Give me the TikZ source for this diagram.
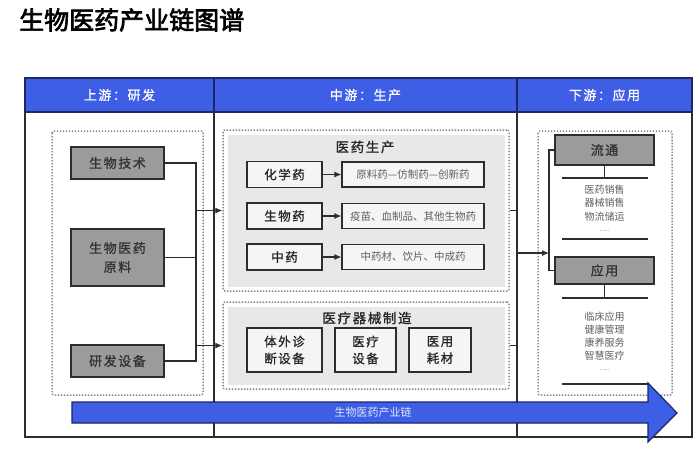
\documentclass[tikz,border=0pt]{standalone}
\usepackage{fontspec}
\setmainfont{Noto Sans CJK SC}
\newfontfamily\titlefont{Noto Sans CJK SC}[FakeBold=2.5]
\newfontfamily\boxfont{Noto Sans CJK SC}[FakeBold=1.0,LetterSpace=12]
\newfontfamily\plainfont{Noto Sans CJK SC}
\usetikzlibrary{arrows.meta}
\definecolor{hdrblue}{RGB}{62,94,230}
\definecolor{navy}{RGB}{28,38,105}
\definecolor{boxgray}{RGB}{155,155,155}
\definecolor{panelgray}{RGB}{232,232,232}
\definecolor{dotgray}{RGB}{135,135,135}
\definecolor{linedark}{RGB}{45,45,45}
\definecolor{txtgray}{RGB}{95,95,95}
\begin{document}
\begin{tikzpicture}[x=1pt,y=-1pt,
  hdrtext/.style={text=white, font=\boxfont\fontsize{13}{13}\selectfont},
  graybox/.style={draw=linedark, line width=1.1pt, fill=boxgray, text=black!80,
    font=\boxfont\fontsize{13}{19}\selectfont, align=center, inner sep=0pt},
  whitebox/.style={draw=linedark, line width=1.1pt, fill=white!96!black, text=black!85,
    font=\boxfont\fontsize{12.5}{17}\selectfont, align=center, inner sep=0pt},
  itembox/.style={draw=linedark, line width=1.1pt, fill=white!96!black, text=txtgray,
    font=\plainfont\fontsize{10.5}{12}\selectfont, inner sep=0pt},
  dotbox/.style={draw=dotgray, line width=1.5pt, dash pattern=on 1.4pt off 1.6pt, rounded corners=2pt},
  secttitle/.style={text=black!85, font=\boxfont\fontsize{13.5}{14}\selectfont},
  listtext/.style={text=txtgray, font=\plainfont\fontsize{10}{13.5}\selectfont, align=center},
  conn/.style={draw=linedark, line width=1.1pt},
  arr/.style={conn, -{Latex[length=7pt,width=6pt]}}
]
\useasboundingbox (0,0) rectangle (700,451);
\fill[white] (0,0) rectangle (700,451);

% title
\node[anchor=west, inner sep=0pt, font=\titlefont\fontsize{25}{25}\selectfont] (title) at (19,20) {生物医药产业链图谱};

% frame and header
\fill[hdrblue] (25,78) rectangle (692,112);
\draw[navy, line width=1.2pt] (25,78) rectangle (692,112);
\draw[linedark, line width=1.2pt] (25,112) -- (25,437) -- (692,437) -- (692,112);
\coordinate (divL) at (214,0);
\coordinate (divR) at (517,0);
\draw[navy, line width=1.2pt] (214,78) -- (214,112);
\draw[navy, line width=1.2pt] (517,78) -- (517,112);
\draw[linedark, line width=1.2pt] (214,112) -- (214,437);
\draw[linedark, line width=1.2pt] (517,112) -- (517,437);
\node[hdrtext] (h1) at (119.5,95) {上游：研发};
\node[hdrtext] (h2) at (365.5,95) {中游：生产};
\node[hdrtext] (h3) at (604.5,95) {下游：应用};

% ---------- upstream
\draw[dotbox] (52,131) rectangle (203,395);
\node[graybox, minimum width=93pt, minimum height=32pt] (bt) at (117.5,163) {生物技术};
\node[graybox, minimum width=93pt, minimum height=57pt] (yl) at (117.5,257.5) {生物医药\\原料};
\node[graybox, minimum width=93pt, minimum height=32pt] (rd) at (117.5,361) {研发设备};
\coordinate (lbus) at (196,0);
\draw[conn] (bt.east) -- (bt.east -| lbus) -- (rd.east -| lbus) -- (rd.east);
\draw[conn] (yl.east) -- (yl.east -| lbus);

% ---------- midstream
\node[dotbox, minimum width=286pt, minimum height=161pt, inner sep=0pt] (prodpanel) at (366,210.5) {};
\fill[panelgray] (228,135) rectangle (505,287);
\node[dotbox, minimum width=286pt, minimum height=87pt, inner sep=0pt] (devpanel) at (366,345.5) {};
\fill[panelgray] (228,307) rectangle (505,385);

\draw[arr] (prodpanel.west -| lbus) -- (prodpanel.west);
\draw[arr] (devpanel.west -| lbus) -- (devpanel.west);

\node[secttitle] (t1) at (365,147) {医药生产};
\node[whitebox, minimum width=75pt, minimum height=26pt] (hx) at (284.5,174.5) {化学药};
\node[whitebox, minimum width=75pt, minimum height=26pt] (sw) at (284.5,216) {生物药};
\node[whitebox, minimum width=75pt, minimum height=26pt] (zy) at (284.5,257) {中药};
\node[itembox, minimum width=142pt, minimum height=25pt] (hxi) at (413,174.5) {原料药—仿制药—创新药};
\node[itembox, minimum width=142pt, minimum height=25pt] (swi) at (413,216) {疫苗、血制品、其他生物药};
\node[itembox, minimum width=142pt, minimum height=25pt] (zyi) at (413,257) {中药材、饮片、中成药};
\draw[arr] (hx.east) -- (hxi.west);
\draw[arr] (sw.east) -- (swi.west);
\draw[arr] (zy.east) -- (zyi.west);

\node[secttitle] (t2) at (367,318) {医疗器械制造};
\node[whitebox, minimum width=75pt, minimum height=44pt] (tw) at (284.5,350) {体外诊\\断设备};
\node[whitebox, minimum width=61pt, minimum height=44pt] (ylsb) at (365.5,350) {医疗\\设备};
\node[whitebox, minimum width=62pt, minimum height=44pt] (hc) at (440,350) {医用\\耗材};

\draw[conn] (prodpanel.east) -- (prodpanel.east -| divR);
\draw[conn] (devpanel.east) -- (devpanel.east -| divR);

% ---------- downstream
\draw[dotbox] (538,131) rectangle (672,395);
\node[graybox, minimum width=99pt, minimum height=30pt] (lt) at (604.5,150) {流通};
\node[graybox, minimum width=99pt, minimum height=27pt] (yy) at (604.5,270.5) {应用};
\coordinate (rbus) at (549,0);
\coordinate (rin) at (0,253);
\draw[conn] (lt.west) -- (lt.west -| rbus) -- (yy.west -| rbus) -- (yy.west);
\draw[arr] (rin -| divR) -- (rin -| rbus);

\coordinate (l1) at (604.5,178);
\draw[conn] (lt.south) -- (l1);
\draw[conn] (562,178) -- (648,178);
\node[listtext] (ltlist) at (604.5,203) {医药销售\\器械销售\\物流储运};
\node[listtext, font=\plainfont\fontsize{6}{6}\selectfont] (ltdots) at (604.5,231) {......};
\draw[conn] (562,239) -- (648,239);

\coordinate (l2) at (604.5,298);
\draw[conn] (yy.south) -- (l2);
\draw[conn] (562,298) -- (648,298);
\node[listtext, font=\plainfont\fontsize{10}{13}\selectfont] (yylist) at (604.5,336.5) {临床应用\\健康管理\\康养服务\\智慧医疗};
\node[listtext, font=\plainfont\fontsize{6}{6}\selectfont] (yydots) at (604.5,370) {......};
\draw[conn] (562,384) -- (648,384);

% ---------- big arrow
\filldraw[fill=hdrblue, draw=navy, line width=1.2pt]
  (72,402) -- (648,402) -- (648,383) -- (677,413) -- (648,442) -- (648,423) -- (72,423) -- cycle;
\node[text={rgb,255:red,225;green,230;blue,250}, font=\plainfont\fontsize{11}{11}\selectfont] (chain) at (373,412.5) {生物医药产业链};
\end{tikzpicture}
\end{document}
